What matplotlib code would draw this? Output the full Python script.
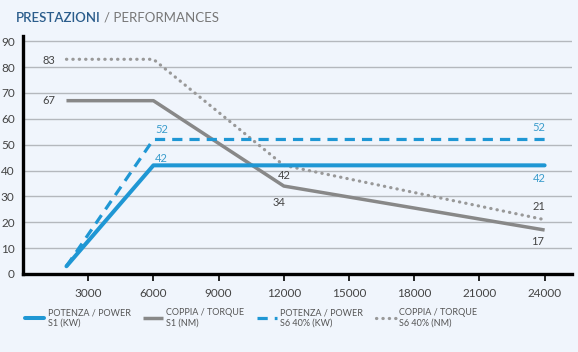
import matplotlib
matplotlib.use("Agg")
import matplotlib.pyplot as plt
from matplotlib.lines import Line2D

plt.rcParams['font.family'] = ['Lato', 'DejaVu Sans']

# Data
rpm_power = [2000, 6000, 24000]
power_s1 = [3, 42, 42]
power_s6 = [3, 52, 52]
rpm_torque = [2000, 6000, 12000, 24000]
torque_s1 = [67, 67, 34, 17]
torque_s6 = [83, 83, 42, 21]
x_ticks = [3000, 6000, 9000, 12000, 15000, 18000, 21000, 24000]
y_ticks = [0, 10, 20, 30, 40, 50, 60, 70, 80, 90]
legend_labels = ["POTENZA / POWER\nS1 (KW)", "COPPIA / TORQUE\nS1 (NM)",
                 "POTENZA / POWER\nS6 40% (KW)", "COPPIA / TORQUE\nS6 40% (NM)"]

BG = '#f0f5fc'
BLUE = '#1f97d4'
BLUE_TXT = '#3a9ccc'
GREY = '#888888'
DOT = '#999999'
TXT = '#444444'

fig = plt.figure(figsize=(5.78, 3.52), dpi=100, facecolor=BG)
ax = fig.add_axes([23/578, 1-274/352, (572-23)/578, (274-36)/352])
ax.set_facecolor(BG)
ax.set_xlim(0, 25260)
ax.set_ylim(0, 92)

for y in y_ticks[1:]:
    ax.axhline(y, color='#b4b8bd', lw=1.0, zorder=1)

l1, = ax.plot(rpm_power, power_s1, color=BLUE, lw=2.9, solid_capstyle='round', zorder=4)
l3, = ax.plot(rpm_power, power_s6, color=BLUE, lw=2.3, linestyle=(0, (3.2, 2.2)), zorder=4)
l2, = ax.plot(rpm_torque, torque_s1, color=GREY, lw=2.5, solid_capstyle='butt', zorder=3)
l4, = ax.plot(rpm_torque, torque_s6, color=DOT, lw=2.3, linestyle=(0, (0.1, 1.9)),
              dash_capstyle='round', zorder=3)

def lab(x, y, dx, dy, txt, color):
    ax.annotate(txt, (x, y), xytext=(dx, dy), textcoords='offset points',
                ha='center', va='center', fontsize=8, color=color)

lab(rpm_torque[0], torque_s6[0], -13, -1, str(torque_s6[0]), TXT)
lab(rpm_torque[0], torque_s1[0], -13, 0, str(torque_s1[0]), TXT)
lab(rpm_power[1], power_s6[1], 6, 7, str(power_s6[1]), BLUE_TXT)
lab(rpm_power[1], power_s1[1], 6, 5, str(power_s1[1]), BLUE_TXT)
lab(rpm_torque[2], torque_s6[2], 0, -7, str(torque_s6[2]), TXT)
lab(rpm_torque[2], torque_s1[2], -3.5, -11.5, str(torque_s1[2]), TXT)
lab(rpm_power[2], power_s6[2], -4, 8.6, str(power_s6[2]), BLUE_TXT)
lab(rpm_power[2], power_s1[2], -4, -9.4, str(power_s1[2]), BLUE_TXT)
lab(rpm_torque[3], torque_s6[3], -4, 9.4, str(torque_s6[3]), TXT)
lab(rpm_torque[3], torque_s1[3], -5, -8.6, str(torque_s1[3]), TXT)

for s in ['top', 'right']:
    ax.spines[s].set_visible(False)
for s in ['left', 'bottom']:
    ax.spines[s].set_color('black')
    ax.spines[s].set_linewidth(2.4)

ax.set_xticks(x_ticks)
ax.set_xticklabels([str(v) for v in x_ticks])
ax.set_yticks(y_ticks)
ax.set_yticklabels([str(v) for v in y_ticks])
ax.tick_params(axis='x', length=5, width=1.2, color='black', labelsize=8.5,
               labelcolor=TXT, pad=5)
ax.tick_params(axis='y', length=0, labelsize=8.5, labelcolor=TXT, pad=6)

# Title
t1 = fig.text(16/578, 1-18/352, "PRESTAZIONI", fontsize=9.5, color='#2b5d8c',
              fontweight='semibold', va='center', ha='left')
fig.canvas.draw()
bb = t1.get_window_extent(fig.canvas.get_renderer())
fig.text((bb.x1 + 3)/578, 1-18/352, "/ PERFORMANCES", fontsize=9.5, color='#777777',
         va='center', ha='left')

fig.legend([l1, l2, l3, l4], legend_labels, loc='center left',
           bbox_to_anchor=(21/578, 1-318/352), ncol=4, frameon=False,
           fontsize=6.5, labelcolor='#555555', handlelength=2.2,
           handletextpad=0.35, columnspacing=1.4, borderaxespad=0)

fig.savefig('out.png', dpi=100, facecolor=BG)
